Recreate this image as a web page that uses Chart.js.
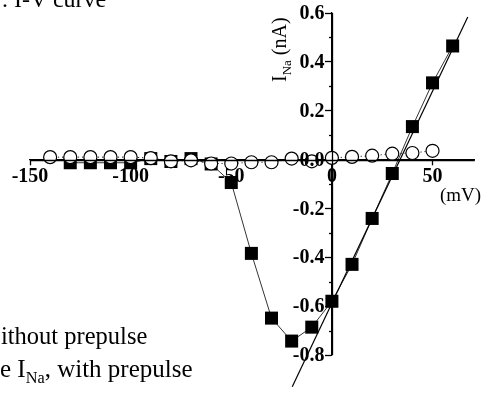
<!DOCTYPE html>
<html>
<head>
<meta charset="utf-8">
<script src="https://cdn.jsdelivr.net/npm/chart.js@4.4.1/dist/chart.umd.min.js"></script>
<style>
  html, body { margin: 0; padding: 0; background: #fff; }
  #wrap { position: relative; width: 484px; height: 397px; overflow: hidden; font-family: "Liberation Serif", serif; color: #000; }
  #c { position: absolute; left: 0; top: 0; }
  .txt { position: absolute; white-space: nowrap; line-height: 1; }
  .txt sub { font-size: 0.65em; vertical-align: -0.35em; line-height: 0; }
</style>
</head>
<body>
<div id="wrap">
  <canvas id="c" width="484" height="397"></canvas>
  <div class="txt" id="topTitle" style="left:2px; top:-13px; font-size:24px;">. I-V curve</div>
  <div class="txt" id="yTitle" style="left:269px; top:82px; font-size:20px; transform-origin:0 0; transform:rotate(-90deg);">I<sub>Na</sub> (nA)</div>
  <div class="txt" id="xTitle" style="left:440px; top:185px; font-size:19px;">(mV)</div>
  <div class="txt" id="leg1" style="left:1px; top:324px; font-size:24.5px;">ithout prepulse</div>
  <div class="txt" id="leg2" style="left:0px; top:356px; font-size:25px;">e I<sub>Na</sub>, with prepulse</div>
</div>
<script>
// --- datos ---
const voltsNoPre = [-140, -130, -120, -110, -100, -90, -80, -70, -60, -50, -40, -30, -20, -10, 0, 10, 20, 30, 40, 50];
const iNoPre = [0.01, 0.01, 0.01, 0.01, 0.01, 0.006, -0.007, -0.003, -0.016, -0.016, -0.011, -0.011, 0.004, -0.007, 0.007, 0.011, 0.016, 0.024, 0.027, 0.036];

const voltsPre = [-130, -120, -110, -100, -90, -80, -70, -60, -50, -40, -30, -20, -10, 0, 10, 20, 30, 40, 50, 60];
const iPre = [-0.013, -0.013, -0.013, -0.013, 0.004, -0.008, 0.004, -0.018, -0.094, -0.384, -0.649, -0.743, -0.686, -0.58, -0.429, -0.241, -0.057, 0.135, 0.314, 0.465];

// recta de ajuste
const fitV = [-19.7, 67.5];
const fitI = [-0.93, 0.584];

const xTicks = [-150, -100, -50, 0, 50];
const yTicks = [-0.8, -0.6, -0.4, -0.2, 0.0, 0.2, 0.4, 0.6];
const yMinor = [-0.7, -0.5, -0.3, -0.1, 0.1, 0.3, 0.5];

const toPoints = (xs, ys) => xs.map((x, i) => ({ x, y: ys[i] }));

const tickFont = { family: "Liberation Serif", weight: "bold", size: 20 };

// ejes encima de los marcadores, ticks menores y etiquetas del eje y
const axisOverlay = {
    id: "axisOverlay",
    afterDraw(chart) {
        const ctx = chart.ctx;
        const sx = chart.scales.x;
        const sy = chart.scales.y;
        const x0 = Math.round(sx.getPixelForValue(0)) + 0.5;
        const y0 = Math.round(sy.getPixelForValue(0)) + 0.5;
        ctx.save();
        ctx.strokeStyle = "#000";
        ctx.lineWidth = 1.3;
        ctx.beginPath();
        ctx.moveTo(sx.getPixelForValue(sx.min), y0);
        ctx.lineTo(sx.getPixelForValue(sx.max), y0);
        ctx.moveTo(x0, sy.getPixelForValue(sy.max));
        ctx.lineTo(x0, sy.getPixelForValue(sy.min));
        ctx.stroke();
        yMinor.forEach(v => {
            const y = Math.round(sy.getPixelForValue(v)) + 0.5;
            ctx.beginPath();
            ctx.moveTo(x0, y);
            ctx.lineTo(x0 - 3.5, y);
            ctx.stroke();
        });
        ctx.fillStyle = "#000";
        ctx.font = `bold ${tickFont.size}px "${tickFont.family}"`;
        ctx.textAlign = "right";
        ctx.textBaseline = "middle";
        yTicks.forEach(v => {
            ctx.fillText(v.toFixed(1), x0 - 8, sy.getPixelForValue(v) + 1);
        });
        ctx.restore();
    }
};

new Chart(document.getElementById("c").getContext("2d"), {
    type: "scatter",
    data: {
        datasets: [
            {
                label: "ajuste",
                data: toPoints(fitV, fitI),
                showLine: true,
                borderColor: "#000",
                borderWidth: 1.2,
                pointRadius: 0,
                clip: false,
                order: 0
            },
            {
                label: "sin prepulso",
                data: toPoints(voltsNoPre, iNoPre),
                showLine: true,
                borderColor: "#000",
                borderWidth: 1,
                borderDash: [1, 3],
                pointStyle: "circle",
                pointRadius: 6.5,
                pointBorderWidth: 1.2,
                pointBorderColor: "#000",
                pointBackgroundColor: "#fff",
                clip: false,
                order: 1
            },
            {
                label: "con prepulso",
                data: toPoints(voltsPre, iPre),
                showLine: true,
                borderColor: "#000",
                borderWidth: 0.8,
                pointStyle: "rect",
                pointRadius: 9.2,
                pointBorderWidth: 0,
                pointBackgroundColor: "#000",
                clip: false,
                order: 2
            }
        ]
    },
    options: {
        animation: false,
        responsive: false,
        layout: { padding: { left: 30, right: 6, top: 13, bottom: 42 } },
        plugins: { legend: { display: false }, tooltip: { enabled: false } },
        scales: {
            x: {
                type: "linear",
                min: -150,
                max: 71,
                position: { y: 0 },
                afterBuildTicks: s => { s.ticks = xTicks.map(v => ({ value: v })); },
                afterFit: s => { s.height = 0; },
                grid: { drawOnChartArea: false, drawTicks: true, tickLength: 5, tickColor: "#000", tickWidth: 1.3 },
                border: { display: true, color: "#000", width: 1.3 },
                ticks: { font: tickFont, color: "#000", padding: 0, maxRotation: 0, autoSkip: false,
                         callback: v => String(v) }
            },
            y: {
                type: "linear",
                min: -0.8,
                max: 0.6,
                position: { x: 0 },
                afterBuildTicks: s => { s.ticks = yTicks.map(v => ({ value: v })); },
                afterFit: s => { s.width = 0; },
                grid: { drawOnChartArea: false, drawTicks: true, tickLength: 6, tickColor: "#000", tickWidth: 1.3 },
                border: { display: true, color: "#000", width: 1.3 },
                ticks: { display: false }
            }
        }
    },
    plugins: [axisOverlay]
});
</script>
</body>
</html>
